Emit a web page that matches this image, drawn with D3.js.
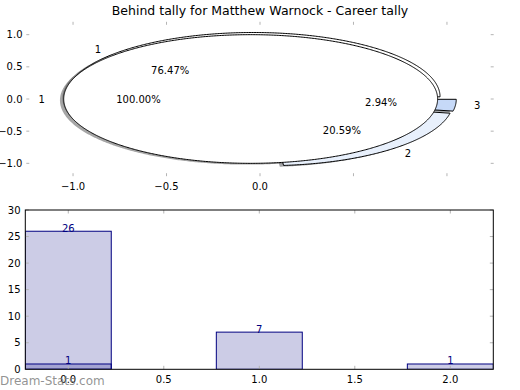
<!DOCTYPE html>
<html><head><meta charset="utf-8">
<script src="https://cdn.jsdelivr.net/npm/d3@7"></script>
<style>body{margin:0;background:#fff}svg{display:block}text{font-family:"DejaVu Sans",sans-serif}</style>
</head><body>
<script>
// ---- data ----
const titleText = "Behind tally for Matthew Warnock - Career tally";
const pieOuterLabels = ["1"];
const pieOuterValues = [1];
const pieInnerLabels = ["1", "2", "3"];
const pieInnerValues = [26, 7, 1];
const pieInnerColors = ["#ffffff", "#e8f0fc", "#c6d9f8"];
const pieOuterColors = ["#ffffff"];
const barCategories = [0, 1, 2];
const barValuesA = [26, 7, 1];
const barValuesB = [1];
const topXTicks = [-1.0, -0.5, 0.0, 0.5, 1.0];
const topXTickLabels = ["\u22121.0", "\u22120.5", "0.0", "", ""];
const topYTicks = [-1.0, -0.5, 0.0, 0.5, 1.0];
const botXTicks = [0.0, 0.5, 1.0, 1.5, 2.0];
const botYTicks = [0, 5, 10, 15, 20, 25, 30];

const W = 520, H = 390;
const svg = d3.select("body").append("svg").attr("width", W).attr("height", H);

svg.append("text").attr("x", 260).attr("y", 15).attr("text-anchor", "middle")
  .attr("font-size", 12.5).attr("fill", "#000").text(titleText);

// ---- top (pie) axes ----
const tx = d3.scaleLinear().domain([-1.25, 1.25]).range([26.3, 493.7]);
const ty = d3.scaleLinear().domain([-1.2, 1.2]).range([176.2, 21.8]);
const tickCol = "#b4b4b4";
const gTop = svg.append("g");

topXTicks.forEach((t, i) => {
  const x = tx(t);
  gTop.append("line").attr("x1", x).attr("x2", x).attr("y1", ty(1.2)).attr("y2", ty(1.2) + 3).attr("stroke", tickCol);
  gTop.append("line").attr("x1", x).attr("x2", x).attr("y1", ty(-1.2)).attr("y2", ty(-1.2) - 3).attr("stroke", tickCol);
  if (topXTickLabels[i]) gTop.append("text").attr("x", x).attr("y", 190).attr("text-anchor", "middle")
    .attr("font-size", 10).text(topXTickLabels[i]);
});
topYTicks.forEach(t => {
  const y = ty(t);
  gTop.append("line").attr("x1", tx(-1.25)).attr("x2", tx(-1.25) + 3).attr("y1", y).attr("y2", y).attr("stroke", tickCol);
  gTop.append("line").attr("x1", tx(1.25)).attr("x2", tx(1.25) - 3).attr("y1", y).attr("y2", y).attr("stroke", tickCol);
  gTop.append("text").attr("x", 22.5).attr("y", y + 3.6).attr("text-anchor", "end")
    .attr("font-size", 10).text(t === 0 ? "0.0" : (t < 0 ? "\u2212" + Math.abs(t).toFixed(1) : t.toFixed(1)));
});

const explode = 0.05;
function wedgeData(values, labels, colors) {
  const arcs = d3.pie().sort(null).value(d => d)(values);
  return arcs.map((a, i) => {
    const t1 = a.startAngle, t2 = a.endAngle; // use as CCW from 3 o'clock
    const tm = (t1 + t2) / 2;
    const cx = explode * Math.cos(tm), cy = explode * Math.sin(tm);
    return {t1, t2, tm, cx, cy, label: labels[i], color: colors[i],
      pct: (100 * (t2 - t1) / (2 * Math.PI)).toFixed(2) + "%",
      full: Math.abs(t2 - t1 - 2 * Math.PI) < 1e-9};
  });
}
function wedgePath(w, ox, oy) {
  const pts = [];
  const n = Math.max(2, Math.ceil((w.t2 - w.t1) / (Math.PI / 360)));
  if (!w.full) pts.push([w.cx + ox, w.cy + oy]);
  for (let k = 0; k <= n; k++) {
    const t = w.t1 + (w.t2 - w.t1) * k / n;
    pts.push([w.cx + ox + Math.cos(t), w.cy + oy + Math.sin(t)]);
  }
  return d3.line().x(p => tx(p[0])).y(p => ty(p[1]))(pts) + "Z";
}
const inner = wedgeData(pieInnerValues, pieInnerLabels, pieInnerColors);
const outer = wedgeData(pieOuterValues, pieOuterLabels, pieOuterColors);

function shade(c) { const r = d3.rgb(c); return d3.rgb(r.r * 0.3, r.g * 0.3, r.b * 0.3).toString(); }
// shadows
[...inner, ...outer].forEach(w => {
  gTop.append("path").attr("d", wedgePath(w, -0.02, -0.02)).attr("fill", shade(w.color))
    .attr("fill-opacity", 0.5).attr("stroke", "none");
});
// wedges: inner pie first, outer pie on top
[...inner, ...outer].forEach(w => {
  gTop.append("path").attr("d", wedgePath(w, 0, 0)).attr("fill", w.color)
    .attr("stroke", "#000").attr("stroke-width", 1).attr("stroke-linejoin", "miter");
});
// texts
[...inner, ...outer].forEach(w => {
  const lx = w.cx + 1.1 * Math.cos(w.tm), ly = w.cy + 1.1 * Math.sin(w.tm);
  gTop.append("text").attr("x", tx(lx)).attr("y", ty(ly) + 3.6)
    .attr("text-anchor", lx > 0 ? "start" : "end").attr("font-size", 10).text(w.label);
  const px = w.cx + 0.6 * Math.cos(w.tm), py = w.cy + 0.6 * Math.sin(w.tm);
  gTop.append("text").attr("x", tx(px)).attr("y", ty(py) + 3.6)
    .attr("text-anchor", "middle").attr("font-size", 10).text(w.pct);
});

// ---- bottom (bar) axes ----
const bx = d3.scaleLinear().domain([-0.225, 2.225]).range([25.3, 493.3]);
const by = d3.scaleLinear().domain([0, 30]).range([369.3, 210]);
const gBot = svg.append("g");
gBot.append("clipPath").attr("id", "clipb").append("rect")
  .attr("x", bx(-0.225)).attr("y", by(30)).attr("width", bx(2.225) - bx(-0.225)).attr("height", by(0) - by(30));
const bars = gBot.append("g").attr("clip-path", "url(#clipb)");
const barW = 0.45;
function drawBars(vals) {
  vals.forEach((v, i) => {
    const c = barCategories[i];
    bars.append("rect").attr("x", bx(c - barW / 2)).attr("y", by(v))
      .attr("width", bx(c + barW / 2) - bx(c - barW / 2)).attr("height", by(0) - by(v))
      .attr("fill", "#000080").attr("fill-opacity", 0.2).attr("stroke", "#000080").attr("stroke-width", 1);
  });
}
drawBars(barValuesA);
drawBars(barValuesB);
function drawBarLabels(vals) {
  vals.forEach((v, i) => {
    gBot.append("text").attr("x", bx(barCategories[i])).attr("y", by(v) + 0.5)
      .attr("text-anchor", "middle").attr("font-size", 10).attr("fill", "#000080").text(String(v));
  });
}
drawBarLabels(barValuesA);
drawBarLabels(barValuesB);

botXTicks.forEach(t => {
  const x = bx(t);
  gBot.append("line").attr("x1", x).attr("x2", x).attr("y1", by(0)).attr("y2", by(0) - 3.5).attr("stroke", tickCol);
  gBot.append("line").attr("x1", x).attr("x2", x).attr("y1", by(30)).attr("y2", by(30) + 3.5).attr("stroke", tickCol);
  gBot.append("text").attr("x", x).attr("y", 383).attr("text-anchor", "middle").attr("font-size", 10).text(t.toFixed(1));
});
botYTicks.forEach(t => {
  const y = by(t);
  gBot.append("line").attr("x1", bx(-0.225)).attr("x2", bx(-0.225) + 3.5).attr("y1", y).attr("y2", y).attr("stroke", tickCol);
  gBot.append("line").attr("x1", bx(2.225)).attr("x2", bx(2.225) - 3.5).attr("y1", y).attr("y2", y).attr("stroke", tickCol);
  gBot.append("text").attr("x", 20.5).attr("y", y + 3.6).attr("text-anchor", "end").attr("font-size", 10).text(String(t));
});
gBot.append("rect").attr("x", bx(-0.225)).attr("y", by(30)).attr("width", bx(2.225) - bx(-0.225))
  .attr("height", by(0) - by(30)).attr("fill", "none").attr("stroke", "#000").attr("stroke-width", 1);

svg.append("text").attr("x", 0).attr("y", 384.5).attr("font-size", 12).attr("fill", "#808080")
  .attr("fill-opacity", 0.85).text("Dream-Stats.com");
</script>
</body></html>
